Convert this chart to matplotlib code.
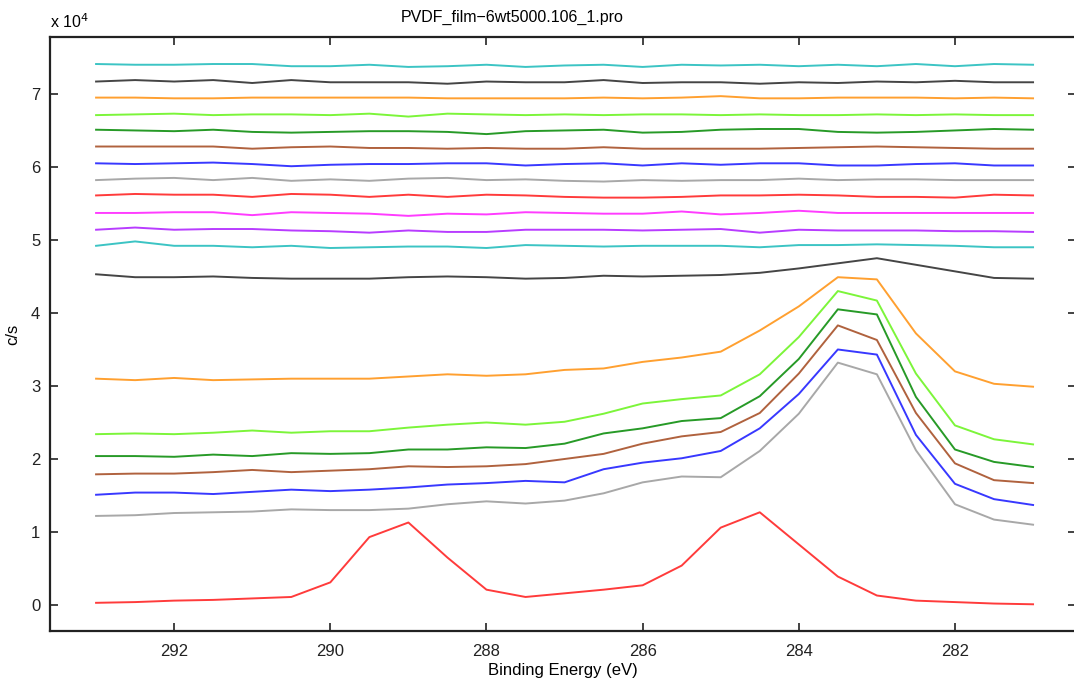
import matplotlib
matplotlib.use("Agg")
import matplotlib.pyplot as plt
import numpy as np

plt.rcParams['font.family'] = ['Liberation Sans', 'DejaVu Sans']

# binding energy grid (eV), 293 -> 281 in 0.5 steps
energy = [293.0, 292.5, 292.0, 291.5, 291.0, 290.5, 290.0, 289.5, 289.0, 288.5,
          288.0, 287.5, 287.0, 286.5, 286.0, 285.5, 285.0, 284.5, 284.0, 283.5,
          283.0, 282.5, 282.0, 281.5, 281.0]

# counts in units of 1e4 c/s, bottom trace first
red_1 = [0.03, 0.04, 0.06, 0.07, 0.09, 0.11, 0.31, 0.93, 1.13, 0.65, 0.21, 0.11, 0.16,
         0.21, 0.27, 0.54, 1.06, 1.27, 0.83, 0.39, 0.13, 0.06, 0.04, 0.02, 0.01]
gray_1 = [1.22, 1.23, 1.26, 1.27, 1.28, 1.31, 1.30, 1.30, 1.32, 1.38, 1.42, 1.39, 1.43,
          1.53, 1.68, 1.76, 1.75, 2.11, 2.62, 3.32, 3.16, 2.12, 1.38, 1.17, 1.10]
blue_1 = [1.51, 1.54, 1.54, 1.52, 1.55, 1.58, 1.56, 1.58, 1.61, 1.65, 1.67, 1.70, 1.68,
          1.86, 1.95, 2.01, 2.11, 2.42, 2.89, 3.50, 3.43, 2.33, 1.66, 1.45, 1.37]
brown_1 = [1.79, 1.80, 1.80, 1.82, 1.85, 1.82, 1.84, 1.86, 1.90, 1.89, 1.90, 1.93, 2.00,
           2.07, 2.21, 2.31, 2.37, 2.63, 3.17, 3.83, 3.63, 2.63, 1.94, 1.71, 1.67]
dgreen_1 = [2.04, 2.04, 2.03, 2.06, 2.04, 2.08, 2.07, 2.08, 2.13, 2.13, 2.16, 2.15, 2.21,
            2.35, 2.42, 2.52, 2.56, 2.86, 3.37, 4.05, 3.98, 2.85, 2.13, 1.96, 1.89]
lgreen_1 = [2.34, 2.35, 2.34, 2.36, 2.39, 2.36, 2.38, 2.38, 2.43, 2.47, 2.50, 2.47, 2.51,
            2.62, 2.76, 2.82, 2.87, 3.16, 3.67, 4.30, 4.17, 3.17, 2.46, 2.27, 2.20]
orange_1 = [3.10, 3.08, 3.11, 3.08, 3.09, 3.10, 3.10, 3.10, 3.13, 3.16, 3.14, 3.16, 3.22,
            3.24, 3.33, 3.39, 3.47, 3.76, 4.09, 4.49, 4.46, 3.72, 3.20, 3.03, 2.99]
black_1 = [4.53, 4.49, 4.49, 4.50, 4.48, 4.47, 4.47, 4.47, 4.49, 4.50, 4.49, 4.47, 4.48,
           4.51, 4.50, 4.51, 4.52, 4.55, 4.61, 4.68, 4.75, 4.66, 4.57, 4.48, 4.47]
cyan_1 = [4.92, 4.98, 4.92, 4.92, 4.90, 4.92, 4.89, 4.90, 4.91, 4.91, 4.89, 4.93, 4.92,
          4.91, 4.92, 4.92, 4.92, 4.90, 4.93, 4.93, 4.94, 4.93, 4.92, 4.90, 4.90]
purple_1 = [5.14, 5.17, 5.14, 5.15, 5.15, 5.13, 5.12, 5.10, 5.13, 5.11, 5.11, 5.14, 5.14,
            5.14, 5.13, 5.14, 5.15, 5.10, 5.14, 5.13, 5.13, 5.13, 5.12, 5.12, 5.11]
magenta_1 = [5.37, 5.37, 5.38, 5.38, 5.34, 5.38, 5.37, 5.36, 5.33, 5.36, 5.35, 5.38, 5.37,
             5.36, 5.36, 5.39, 5.35, 5.37, 5.40, 5.37, 5.37, 5.37, 5.37, 5.37, 5.37]
red_2 = [5.61, 5.63, 5.62, 5.62, 5.59, 5.63, 5.62, 5.59, 5.62, 5.59, 5.62, 5.61, 5.59,
         5.58, 5.58, 5.59, 5.61, 5.61, 5.62, 5.61, 5.59, 5.59, 5.58, 5.62, 5.61]
gray_2 = [5.82, 5.84, 5.85, 5.82, 5.85, 5.81, 5.83, 5.81, 5.84, 5.85, 5.82, 5.83, 5.81,
          5.80, 5.82, 5.81, 5.82, 5.82, 5.84, 5.82, 5.83, 5.83, 5.82, 5.82, 5.82]
blue_2 = [6.05, 6.04, 6.05, 6.06, 6.04, 6.01, 6.03, 6.04, 6.04, 6.05, 6.05, 6.02, 6.04,
          6.05, 6.02, 6.05, 6.03, 6.05, 6.05, 6.02, 6.02, 6.04, 6.05, 6.02, 6.02]
brown_2 = [6.28, 6.28, 6.28, 6.28, 6.25, 6.27, 6.28, 6.26, 6.26, 6.25, 6.26, 6.25, 6.25,
           6.27, 6.25, 6.25, 6.25, 6.25, 6.26, 6.27, 6.28, 6.27, 6.26, 6.25, 6.25]
dgreen_2 = [6.51, 6.50, 6.49, 6.51, 6.48, 6.47, 6.48, 6.49, 6.49, 6.48, 6.45, 6.49, 6.50,
            6.51, 6.47, 6.48, 6.51, 6.52, 6.52, 6.48, 6.47, 6.48, 6.50, 6.52, 6.51]
lgreen_2 = [6.71, 6.72, 6.73, 6.71, 6.72, 6.72, 6.71, 6.73, 6.69, 6.73, 6.72, 6.71, 6.72,
            6.71, 6.72, 6.72, 6.71, 6.72, 6.71, 6.71, 6.72, 6.71, 6.72, 6.71, 6.71]
orange_2 = [6.95, 6.95, 6.94, 6.94, 6.95, 6.95, 6.95, 6.95, 6.95, 6.94, 6.94, 6.94, 6.94,
            6.95, 6.94, 6.95, 6.97, 6.94, 6.94, 6.95, 6.95, 6.95, 6.94, 6.95, 6.94]
black_2 = [7.17, 7.19, 7.17, 7.19, 7.15, 7.19, 7.16, 7.16, 7.16, 7.14, 7.17, 7.16, 7.16,
           7.19, 7.15, 7.16, 7.16, 7.14, 7.16, 7.15, 7.17, 7.16, 7.18, 7.16, 7.16]
cyan_2 = [7.41, 7.40, 7.40, 7.41, 7.41, 7.38, 7.38, 7.40, 7.37, 7.38, 7.40, 7.37, 7.39,
          7.40, 7.37, 7.40, 7.39, 7.40, 7.38, 7.40, 7.38, 7.41, 7.38, 7.41, 7.40]

traces = [
    (red_1, '#ff3b3b'), (gray_1, '#a8a8a8'), (blue_1, '#3838ff'), (brown_1, '#b0623e'),
    (dgreen_1, '#279a27'), (lgreen_1, '#7cf53a'), (orange_1, '#ffa030'), (black_1, '#454545'),
    (cyan_1, '#3cc4c4'), (purple_1, '#b83cff'), (magenta_1, '#ff3cff'), (red_2, '#ff3b3b'),
    (gray_2, '#a8a8a8'), (blue_2, '#3838ff'), (brown_2, '#b0623e'), (dgreen_2, '#279a27'),
    (lgreen_2, '#7cf53a'), (orange_2, '#ffa030'), (black_2, '#454545'), (cyan_2, '#3cc4c4'),
]

fig = plt.figure(figsize=(10.74, 6.84), dpi=100)
ax = fig.add_axes([50 / 1074, 1 - 631 / 684, 1026 / 1074, 594 / 684])

e = np.array(energy)
for vals, col in traces:
    ax.plot(e, np.array(vals) * 1e4, color=col, lw=1.4)

ax.set_xlim(293.59, 280.45)
ax.set_ylim(-3560, 77800)
ax.set_xticks([292, 290, 288, 286, 284, 282])
ax.set_yticks(np.arange(0, 8) * 1e4)
ax.set_yticklabels([str(i) for i in range(8)])
ax.tick_params(direction='in', length=6, width=1.2, top=True, right=True,
               labelsize=12, colors='#222222')
ax.tick_params(axis='x', pad=9)
ax.tick_params(axis='y', pad=7)
for s in ax.spines.values():
    s.set_linewidth(1.6)
    s.set_color('#222222')
# the right edge of the box is cut off in the reference image
ax.spines['right'].set_visible(False)

ax.set_xlabel('Binding Energy (eV)', fontsize=12, labelpad=3)
ax.set_ylabel('c/s', fontsize=12, labelpad=8)
fig.text(512 / 1074, 1 - 17 / 684, 'PVDF_film\u22126wt5000.106_1.pro',
         ha='center', va='center', fontsize=11.5)
fig.text(50 / 1074, 1 - 22 / 684, 'x 10$^4$', ha='left', va='center', fontsize=11.5)

fig.savefig('out.png', dpi=100)
